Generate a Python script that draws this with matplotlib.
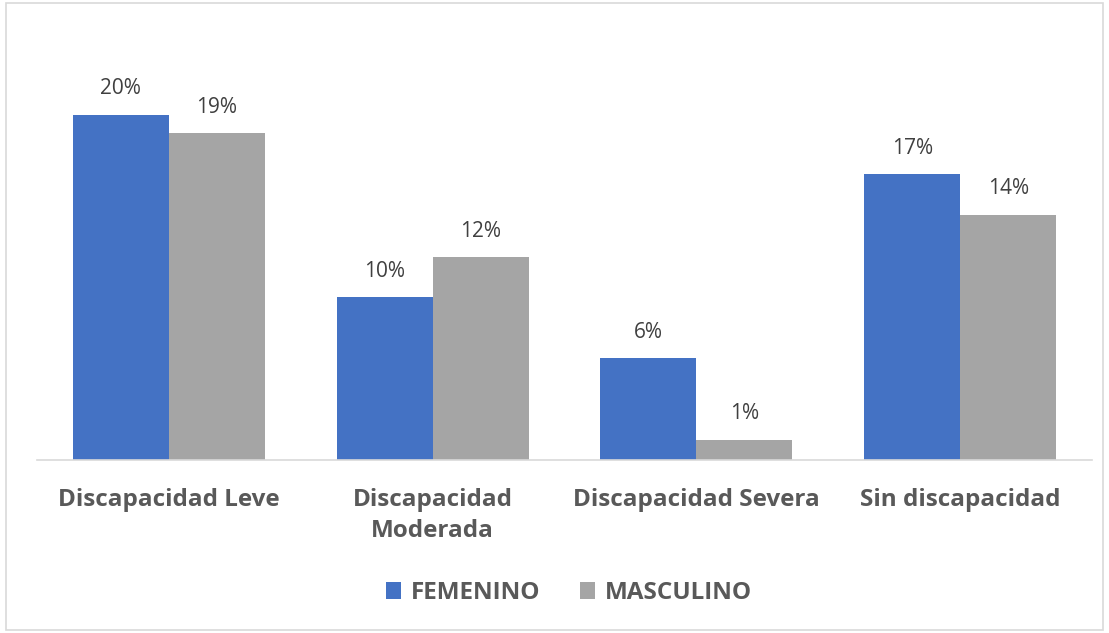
import matplotlib.pyplot as plt
import numpy as np
from matplotlib.patches import Rectangle

categorias = ["Discapacidad Leve", "Discapacidad\nModerada", "Discapacidad Severa", "Sin discapacidad"]
femenino = [20.4, 9.6, 6.0, 16.9]
masculino = [19.3, 12.0, 1.2, 14.5]
series = ["FEMENINO", "MASCULINO"]

plt.rcParams['font.family'] = ['Open Sans', 'DejaVu Sans']

fig = plt.figure(figsize=(11.09, 6.33), dpi=100)
ax = fig.add_axes([0.0334, 0.2733, 0.9513, 0.6419])

x = np.arange(len(categorias))
w = 0.364
b1 = ax.bar(x - w/2, femenino, w, color="#4472C4", label=series[0])
b2 = ax.bar(x + w/2, masculino, w, color="#A5A5A5", label=series[1])

for bars, vals in [(b1, femenino), (b2, masculino)]:
    for r, v in zip(bars, vals):
        ax.text(r.get_x() + r.get_width()/2, v + 0.9, f"{round(v):d}%",
                ha="center", va="bottom", fontsize=15, color="#404040")

ax.set_xlim(-0.5, 3.5)
ax.set_ylim(0, 24)
ax.set_yticks([])
for s in ["top", "right", "left"]:
    ax.spines[s].set_visible(False)
ax.spines["bottom"].set_color("#D9D9D9")
ax.spines["bottom"].set_linewidth(1.2)
ax.set_xticks(x)
ax.set_xticklabels(categorias, fontsize=17.5, fontweight="bold", color="#595959", linespacing=1.4)
ax.tick_params(axis="x", length=0, pad=20)

leg = fig.legend(handles=[b1, b2], loc="center", bbox_to_anchor=(0.513, 0.063), ncol=2,
                 frameon=False, prop={"size": 17.5, "weight": "bold"}, handlelength=0.65,
                 handleheight=0.65, handletextpad=0.4, columnspacing=1.6)
for t in leg.get_texts():
    t.set_color("#595959")

fig.patches.append(Rectangle((0.005, 0.004), 0.99, 0.992, transform=fig.transFigure,
                             fill=False, edgecolor="#D9D9D9", linewidth=1.2))

fig.savefig("out.png", dpi=100)
plt.close()
